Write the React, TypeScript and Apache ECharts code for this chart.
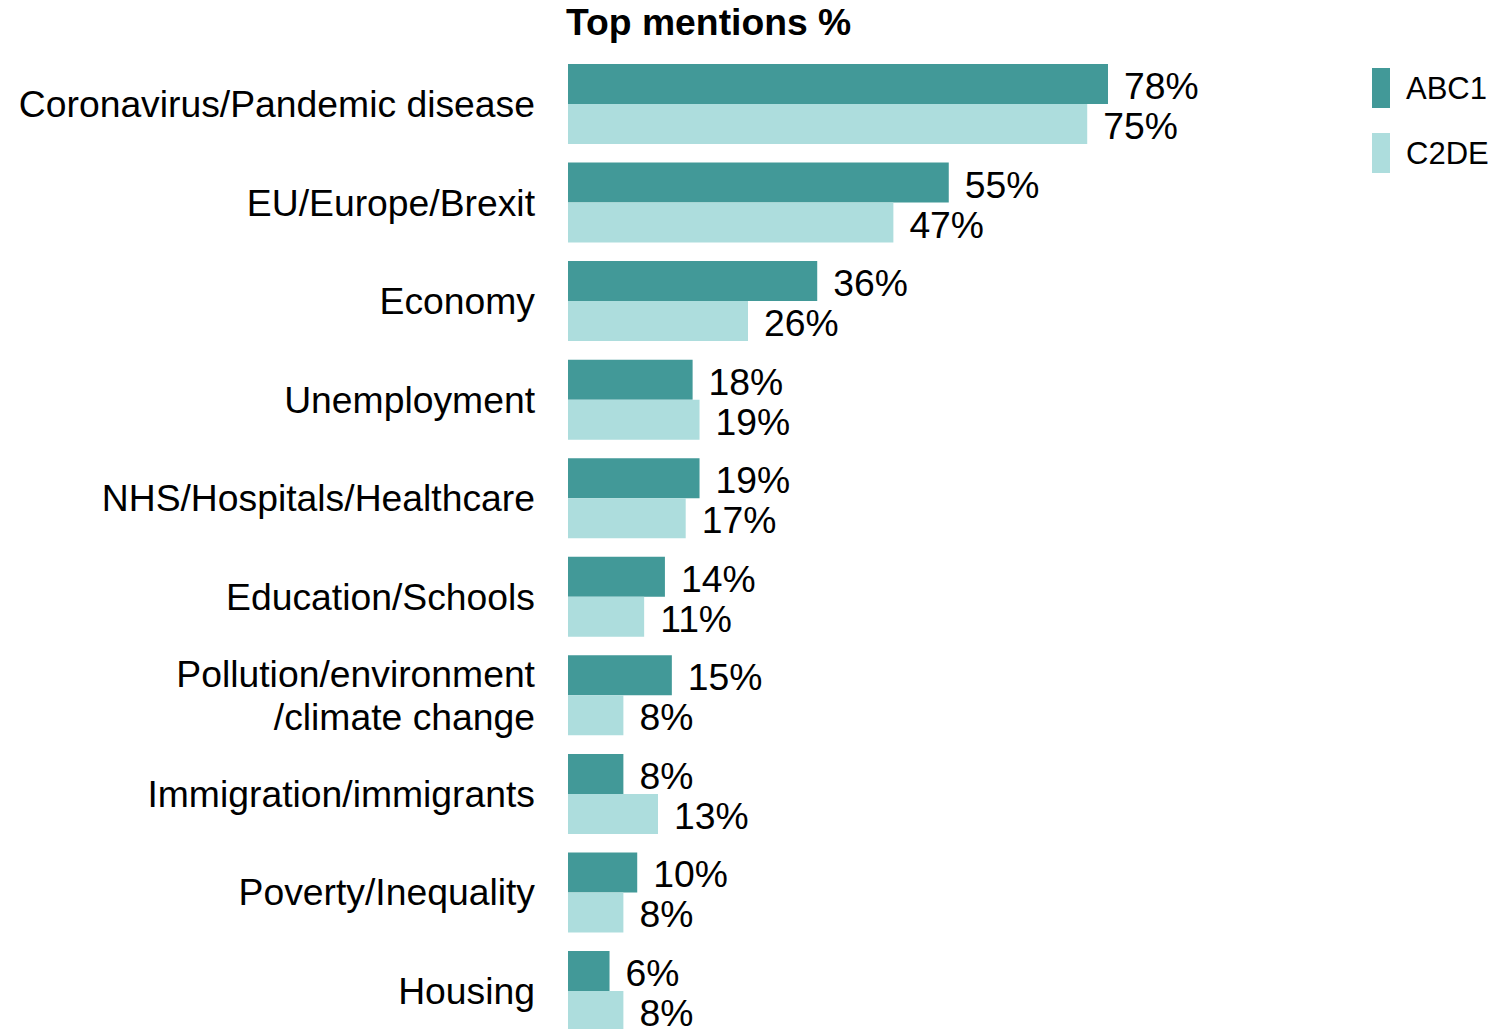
import React, { useEffect, useRef } from "react";
import * as echarts from "echarts";

const categories = [
  "Coronavirus/Pandemic disease",
  "EU/Europe/Brexit",
  "Economy",
  "Unemployment",
  "NHS/Hospitals/Healthcare",
  "Education/Schools",
  "Pollution/environment\n/climate change",
  "Immigration/immigrants",
  "Poverty/Inequality",
  "Housing",
];
const abc1 = [78, 55, 36, 18, 19, 14, 15, 8, 10, 6];
const c2de = [75, 47, 26, 19, 17, 11, 8, 13, 8, 8];
const seriesNames = ["ABC1", "C2DE"];
const titleText = "Top mentions %";

const FONT = "Liberation Sans, Arial, sans-serif";
const FS = 37.3;

export default function App() {
  const ref = useRef<HTMLDivElement>(null);
  useEffect(() => {
    if (!ref.current) return;
    const chart = echarts.init(ref.current, null, { renderer: "svg" });
    const labelCfg = {
      show: true,
      position: "right",
      distance: 16,
      offset: [0, 2],
      formatter: "{c}%",
      color: "#000",
      fontSize: FS,
      fontFamily: FONT,
    };
    chart.setOption({
      animation: false,
      backgroundColor: "#fff",
      textStyle: { fontFamily: FONT },
      graphic: [
        {
          type: "text",
          left: 566,
          top: 3,
          style: {
            text: titleText,
            font: `bold ${FS}px ${FONT}`,
            fill: "#000",
          },
        },
      ],
      legend: {
        orient: "vertical",
        left: 1372,
        top: 68,
        padding: 0,
        itemWidth: 18,
        itemHeight: 40,
        itemGap: 25,
        icon: "rect",
        selectedMode: false,
        data: seriesNames,
        textStyle: {
          fontSize: 31,
          color: "#000",
          fontFamily: FONT,
          padding: [3, 0, 0, 11],
        },
      },
      grid: {
        left: 568,
        top: 54.7,
        width: 692.3,
        height: 985.6,
        containLabel: false,
      },
      xAxis: {
        type: "value",
        min: 0,
        max: 100,
        show: false,
      },
      yAxis: {
        type: "category",
        inverse: true,
        data: categories,
        axisLine: { show: false },
        axisTick: { show: false },
        splitLine: { show: false },
        axisLabel: {
          margin: 33,
          fontSize: FS,
          lineHeight: 43,
          color: "#000",
          fontFamily: FONT,
          align: "right",
        },
      },
      series: [
        {
          name: seriesNames[0],
          type: "bar",
          data: abc1,
          barWidth: 40,
          barGap: "0%",
          itemStyle: { color: "#429998" },
          label: labelCfg,
        },
        {
          name: seriesNames[1],
          type: "bar",
          data: c2de,
          barWidth: 40,
          barGap: "0%",
          itemStyle: { color: "#ADDDDD" },
          label: labelCfg,
        },
      ],
    });
    return () => chart.dispose();
  }, []);
  return (
    <div
      ref={ref}
      style={{ position: "fixed", left: 0, top: 0, width: 1506, height: 1045 }}
    />
  );
}
